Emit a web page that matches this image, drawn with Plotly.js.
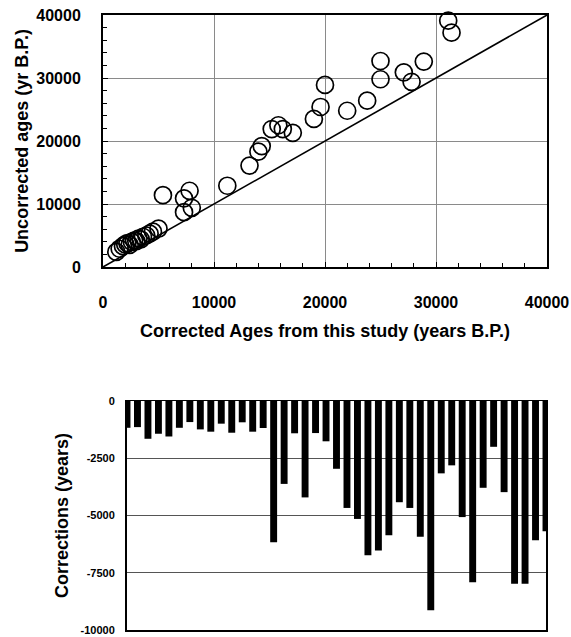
<!DOCTYPE html>
<html>
<head>
<meta charset="utf-8">
<script src="https://cdn.plot.ly/plotly-3.0.1.min.js"></script>
<style>
html,body{margin:0;padding:0;background:#fff;}
#chart{width:571px;height:637px;}
</style>
</head>
<body>
<div id="chart"></div>
<script>
// Scatter: corrected ages (x) vs uncorrected ages (y), years B.P.
var correctedAges = [1200, 1500, 1800, 2000, 2200, 2400, 2600, 2800, 3000, 3200, 3400, 3600, 3900, 4200, 4500, 5000,
  5400, 7300, 7800, 7300, 8000, 11200, 13200, 14000, 14300, 15200, 15800, 16200, 17100,
  19000, 19600, 20000, 22000, 23800, 25000, 25000, 27100, 27800, 28900, 31100, 31400];
var uncorrectedAges = [2400, 2900, 3300, 3600, 3800, 3500, 4000, 4200, 4100, 4500, 4400, 4800, 5000, 5300, 5600, 6100,
  11400, 10900, 12100, 8700, 9400, 12900, 16100, 18300, 19200, 21900, 22500, 21900, 21300,
  23500, 25400, 28900, 24800, 26400, 32700, 29800, 30900, 29400, 32600, 39100, 37200];
// 1:1 reference line
var oneToOne = [0, 40000];
// Bar chart: corrections (years)
var corrections = [-1170, -1140, -1650, -1430, -1550, -1170, -920, -1240, -1340, -990, -1385, -930, -1340, -1180,
  -6170, -3620, -1410, -4210, -1400, -1760, -2960, -4670, -5150, -6740, -6530, -5860, -4420, -4670, -5930,
  -9140, -3160, -2810, -5070, -7920, -3790, -2000, -3980, -7980, -7980, -6080, -5690];
var sampleIndex = corrections.map(function(_, i){ return i; });

var topTicks = [0, 10000, 20000, 30000, 40000];
var topTickText = ["0", "10000", "20000", "30000", "40000"];
var barTicks = [0, -2500, -5000, -7500, -10000];
var barTickText = ["0", "-2500", "-5000", "-7500", "-10000"];

var FONT = "Liberation Sans, Arial, Helvetica, sans-serif";

var traces = [
  {
    x: oneToOne, y: oneToOne, type: "scatter", mode: "lines",
    line: {color: "#000", width: 1.6}, xaxis: "x", yaxis: "y", hoverinfo: "skip"
  },
  {
    x: correctedAges, y: uncorrectedAges, type: "scatter", mode: "markers",
    marker: {symbol: "circle-open", size: 17, color: "#000", line: {color: "#000", width: 1.7}},
    xaxis: "x", yaxis: "y", cliponaxis: false
  },
  {
    x: sampleIndex, y: corrections, type: "bar",
    marker: {color: "#000", line: {width: 0}},
    xaxis: "x2", yaxis: "y2"
  }
];

var layout = {
  width: 571, height: 637,
  margin: {l: 0, r: 0, t: 0, b: 0},
  paper_bgcolor: "#fff", plot_bgcolor: "#fff",
  showlegend: false,
  bargap: 0.34,
  font: {family: FONT, color: "#000"},
  xaxis: {
    domain: [103/571, 547/571], anchor: "y",
    range: [0, 40000], tickvals: topTicks, ticktext: topTickText,
    ticks: "inside", ticklen: 5, tickcolor: "#000",
    minor: {dtick: 2000, ticks: "inside", ticklen: 4, tickcolor: "#000", showgrid: false},
    showgrid: true, gridcolor: "#8a8a8a", gridwidth: 1,
    showline: true, linecolor: "#000", linewidth: 2, mirror: true,
    zeroline: false, ticklabelstandoff: 20,
    tickfont: {family: FONT, size: 16, color: "#000", weight: "bold"},
    title: {text: "<b>Corrected Ages from this study (years B.P.)</b>", standoff: 14,
            font: {family: FONT, size: 18, color: "#000"}}
  },
  yaxis: {
    domain: [370/637, 622/637], anchor: "x",
    range: [0, 40000], tickvals: topTicks, ticktext: topTickText,
    ticks: "inside", ticklen: 5, tickcolor: "#000",
    minor: {dtick: 2000, ticks: "inside", ticklen: 4, tickcolor: "#000", showgrid: false},
    showgrid: true, gridcolor: "#8a8a8a", gridwidth: 1,
    showline: true, linecolor: "#000", linewidth: 2, mirror: true,
    zeroline: false, ticklabelstandoff: 17,
    tickfont: {family: FONT, size: 16, color: "#000", weight: "bold"},
    title: {text: "<b>Uncorrected ages (yr B.P.)</b>", standoff: 3,
            font: {family: FONT, size: 18, color: "#000"}}
  },
  xaxis2: {
    domain: [127/571, 546/571], anchor: "y2",
    range: [0, 40], showticklabels: false, ticks: "",
    showgrid: false, zeroline: false,
    showline: true, linecolor: "#000", linewidth: 1.5, mirror: true
  },
  yaxis2: {
    domain: [7/637, 236/637], anchor: "x2",
    range: [-10000, 0], tickvals: barTicks, ticktext: barTickText,
    ticks: "", showgrid: true, gridcolor: "#555", gridwidth: 1,
    zeroline: false,
    showline: true, linecolor: "#000", linewidth: 2, mirror: true,
    ticklabelstandoff: 8,
    tickfont: {family: FONT, size: 11, color: "#000", weight: "bold"},
    title: {text: "<b>Corrections (years)</b>", standoff: 7,
            font: {family: FONT, size: 18, color: "#000"}}
  }
};

Plotly.newPlot("chart", traces, layout, {displayModeBar: false, staticPlot: true});
</script>
</body>
</html>
